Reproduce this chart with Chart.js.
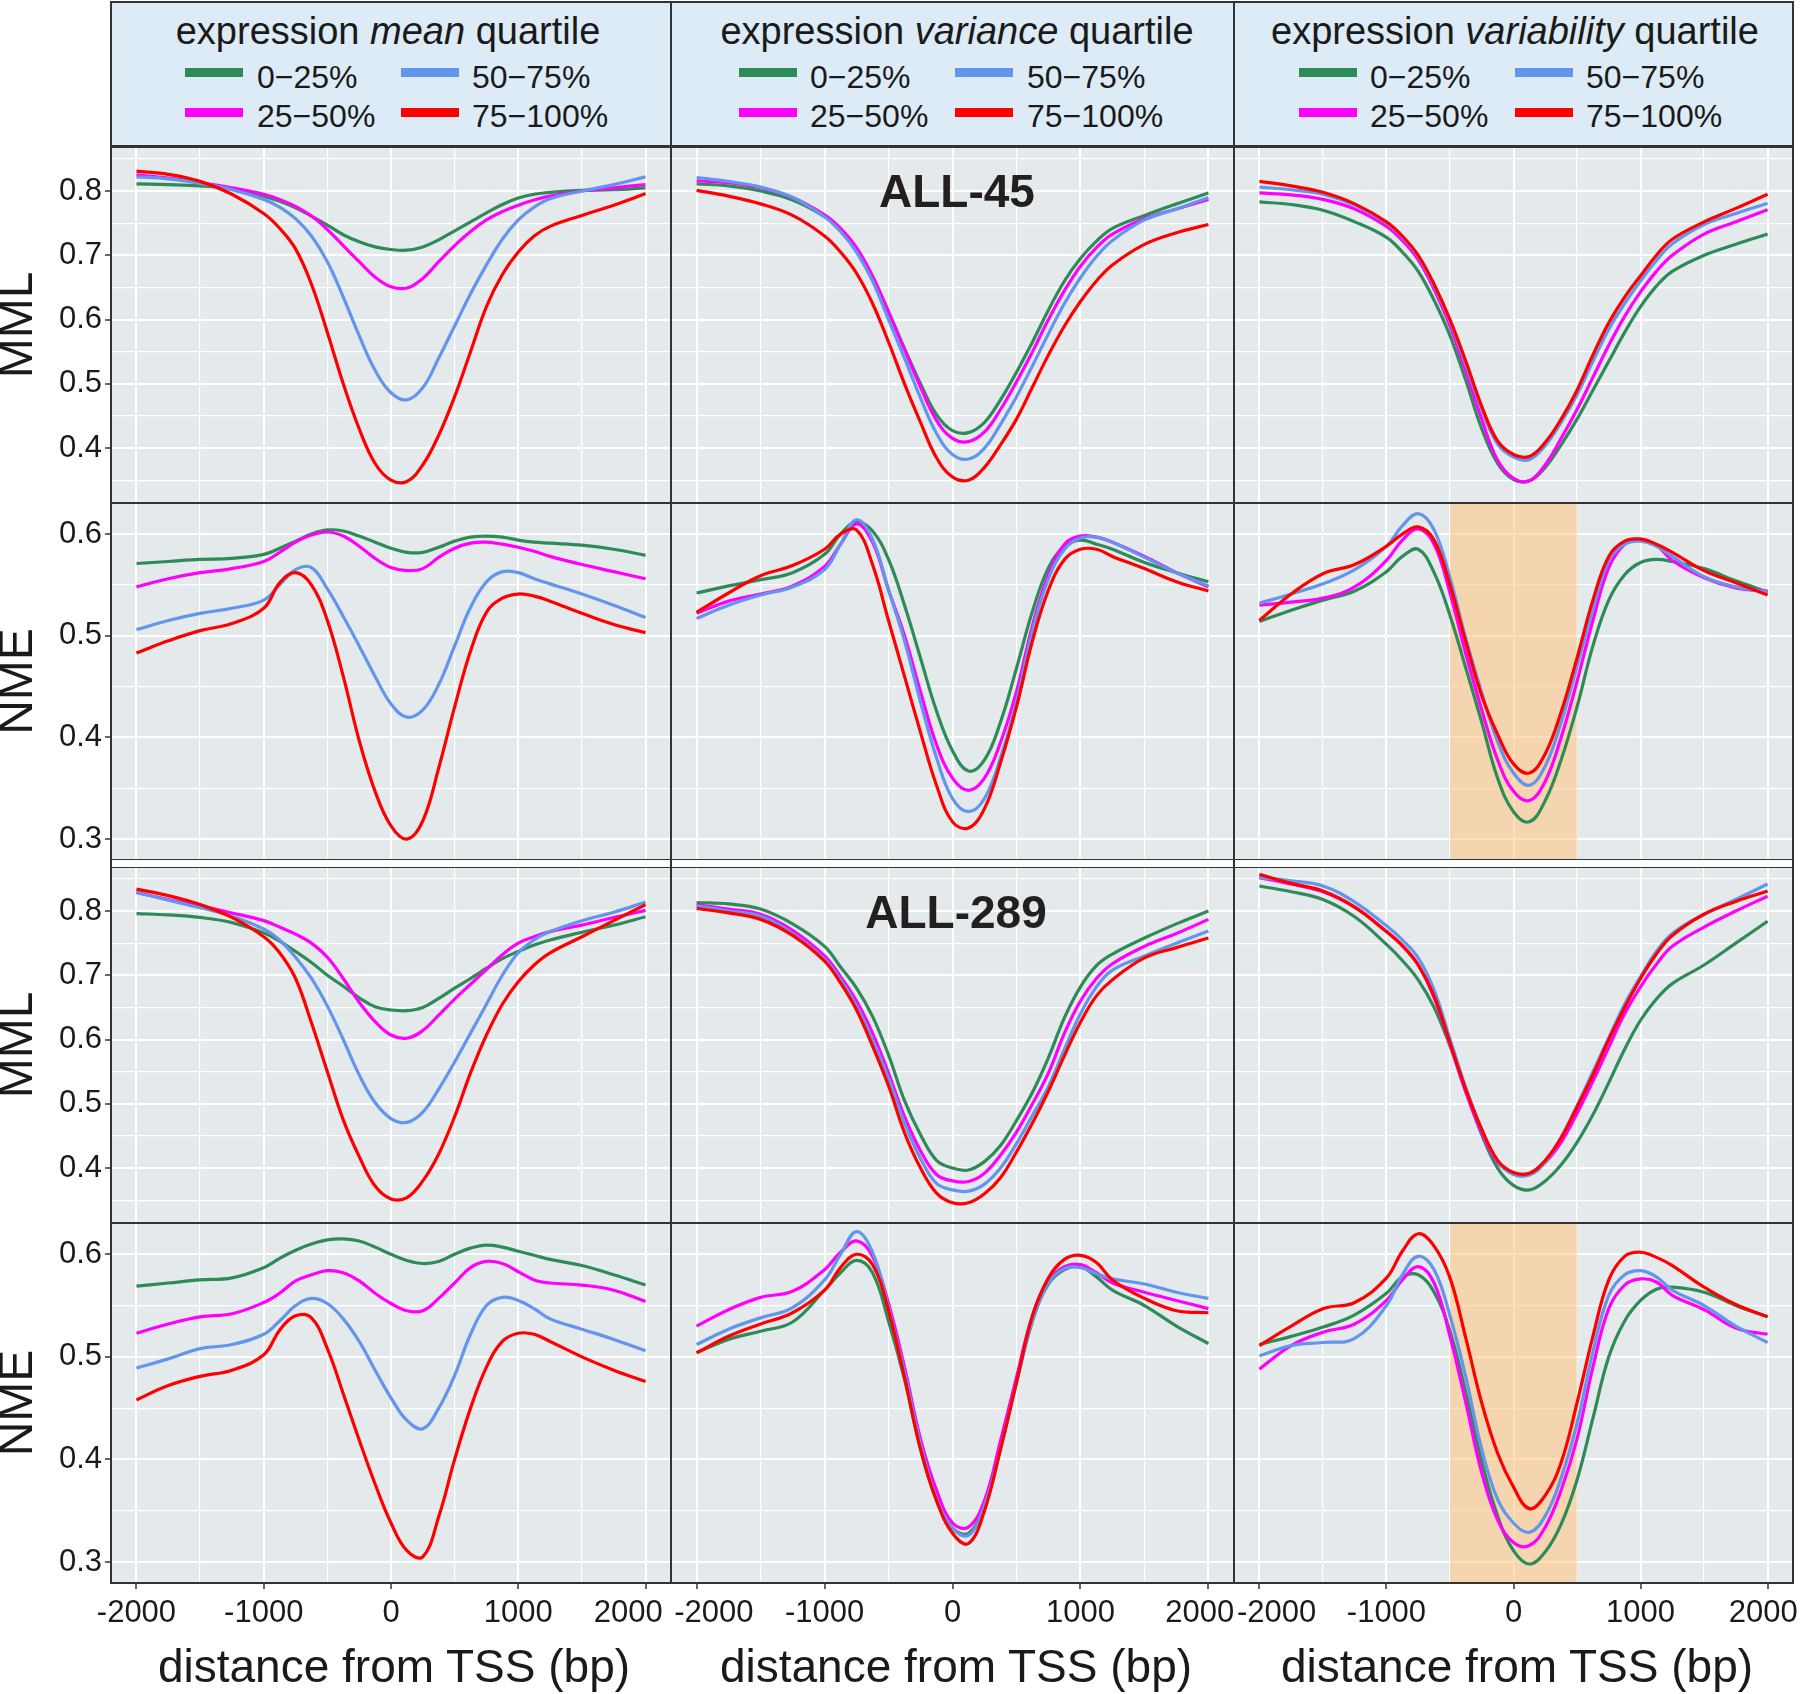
<!DOCTYPE html>
<html>
<head>
<meta charset="utf-8">
<title>MML / NME around TSS by expression quartile</title>
<script src="https://cdn.jsdelivr.net/npm/chart.js@4.4.1/dist/chart.umd.min.js"></script>
<style>
  body { margin: 0; background: #fff; }
  #fig { position: relative; width: 1800px; height: 1694px; font-family: "Liberation Sans", Arial, sans-serif; color: #1a1a1a; }
  #fig canvas { position: absolute; }
  .head { position: absolute; top: 1px; height: 146px; box-sizing: border-box; border: 2px solid #333; background: #dcebf5; }
  .txt { position: absolute; white-space: pre; line-height: 1; }
  .swatch { position: absolute; height: 9px; width: 58px; }
</style>
</head>
<body>
<div id="fig"></div>
<script>
// distance from TSS (bp) at which every curve is sampled
const DISTANCE = [-2000, -1750, -1500, -1250, -1000, -875, -750, -625, -500, -375, -250, -125, 0,
                  125, 250, 375, 500, 625, 750, 875, 1000, 1125, 1250, 1500, 1750, 2000];

const QUARTILES = ['0\u221225%', '25\u221250%', '50\u221275%', '75\u2212100%'];
const COLORS = ['#2e8b57', '#ff00ff', '#6495ed', '#ff0000'];
const HEAD_WORD = ['mean', 'variance', 'variability'];
const ROW_METRIC = ['MML', 'NME', 'MML', 'NME'];
const SAMPLE_LABEL = ['ALL-45', 'ALL-289'];
const X_TITLE = 'distance from TSS (bp)';

const X_TICKS = [-2000, -1500, -1000, -500, 0, 500, 1000, 1500, 2000];
const MML_TICKS = [0.35, 0.4, 0.45, 0.5, 0.55, 0.6, 0.65, 0.7, 0.75, 0.8, 0.85];
const NME_TICKS = [0.3, 0.35, 0.4, 0.45, 0.5, 0.55, 0.6];
const HIGHLIGHT = [-500, 500];

// each panel: [0-25%, 25-50%, 50-75%, 75-100%]
const MML_ALL45_MEAN = [
  [.811,.810,.808,.803,.792,.784,.774,.761,.747,.732,.721,.713,.709,.708,.713,.724,.738,.752,.766,.779,.789,.795,.798,.801,.802,.805],
  [.825,.820,.813,.805,.795,.787,.776,.761,.740,.715,.690,.666,.651,.649,.664,.690,.715,.737,.755,.768,.778,.786,.792,.800,.805,.810],
  [.822,.819,.812,.802,.787,.775,.757,.730,.690,.635,.575,.521,.486,.475,.494,.540,.590,.640,.685,.725,.755,.775,.788,.800,.810,.822],
  [.831,.826,.815,.795,.765,.742,.710,.655,.580,.500,.430,.376,.350,.348,.374,.420,.480,.550,.620,.670,.705,.730,.745,.762,.778,.796]
];
const MML_ALL45_VAR = [
  [.811,.808,.800,.786,.760,.738,.708,.665,.612,.555,.500,.452,.427,.424,.440,.475,.518,.565,.615,.660,.695,.722,.742,.762,.780,.797],
  [.816,.813,.805,.790,.763,.742,.712,.668,.612,.553,.495,.443,.415,.410,.425,.460,.503,.550,.600,.645,.683,.712,.733,.757,.772,.787],
  [.821,.815,.806,.790,.760,.737,.705,.660,.600,.540,.478,.423,.390,.383,.400,.437,.480,.528,.578,.625,.665,.698,.723,.755,.772,.790],
  [.801,.792,.780,.762,.730,.705,.672,.625,.565,.500,.440,.385,.355,.350,.370,.405,.445,.495,.545,.590,.628,.660,.685,.717,.735,.748]
];
const MML_ALL45_VBL = [
  [.783,.779,.770,.752,.728,.705,.675,.630,.575,.505,.430,.376,.351,.349,.370,.405,.445,.490,.535,.580,.620,.652,.675,.700,.717,.733],
  [.797,.794,.787,.772,.745,.723,.693,.647,.590,.520,.445,.381,.353,.349,.374,.415,.460,.510,.560,.605,.643,.675,.700,.733,.752,.771],
  [.806,.802,.795,.778,.750,.728,.698,.652,.597,.530,.460,.406,.386,.382,.404,.440,.483,.535,.585,.625,.660,.692,.718,.748,.765,.781],
  [.815,.808,.798,.780,.752,.730,.700,.655,.600,.535,.465,.411,.390,.387,.409,.445,.490,.545,.595,.635,.668,.700,.725,.752,.773,.795]
];
const NME_ALL45_MEAN = [
  [.571,.573,.575,.576,.580,.586,.593,.600,.604,.603,.598,.592,.586,.582,.582,.587,.593,.597,.598,.597,.594,.592,.591,.589,.585,.579],
  [.548,.556,.562,.566,.573,.582,.592,.599,.602,.598,.588,.576,.567,.564,.566,.577,.586,.591,.592,.590,.587,.583,.578,.570,.563,.556],
  [.506,.515,.522,.527,.535,.550,.565,.567,.546,.519,.490,.460,.433,.420,.427,.452,.490,.528,.553,.563,.562,.556,.551,.541,.530,.518],
  [.483,.495,.505,.512,.527,.552,.562,.550,.515,.460,.397,.347,.313,.300,.318,.370,.430,.485,.523,.537,.541,.539,.534,.522,.511,.503]
];
const NME_ALL45_VAR = [
  [.542,.549,.555,.562,.580,.600,.612,.603,.575,.530,.478,.426,.387,.367,.378,.415,.468,.524,.567,.588,.594,.590,.585,.572,.562,.553],
  [.522,.534,.541,.549,.568,.590,.610,.592,.545,.500,.445,.393,.360,.348,.360,.395,.445,.510,.560,.590,.598,.597,.592,.578,.562,.548],
  [.517,.530,.540,.548,.565,.590,.614,.595,.545,.495,.435,.380,.340,.327,.340,.380,.435,.505,.556,.585,.596,.597,.592,.577,.562,.549],
  [.523,.542,.559,.569,.585,.600,.604,.570,.515,.460,.405,.353,.317,.311,.330,.375,.430,.495,.545,.575,.585,.585,.578,.566,.553,.544]
];
const NME_ALL45_VBL = [
  [.514,.525,.535,.544,.563,.578,.585,.562,.520,.468,.415,.360,.327,.317,.338,.378,.430,.490,.535,.560,.572,.575,.573,.566,.554,.543],
  [.530,.533,.537,.548,.574,.594,.605,.590,.542,.482,.427,.378,.347,.338,.357,.400,.455,.515,.567,.590,.595,.589,.574,.557,.547,.544],
  [.532,.541,.551,.565,.588,.608,.620,.604,.557,.497,.444,.396,.365,.353,.372,.415,.470,.526,.574,.590,.593,.588,.578,.558,.548,.543],
  [.515,.541,.561,.570,.588,.600,.607,.594,.550,.494,.441,.403,.374,.365,.384,.425,.478,.535,.578,.593,.595,.590,.582,.564,.552,.540]
];
const MML_ALL289_MEAN = [
  [.796,.794,.790,.782,.766,.753,.737,.720,.700,.683,.665,.651,.646,.645,.650,.664,.680,.695,.711,.726,.737,.747,.755,.767,.778,.791],
  [.829,.818,.808,.797,.785,.775,.764,.750,.728,.695,.658,.628,.607,.602,.614,.638,.663,.686,.709,.732,.750,.760,.768,.778,.790,.801],
  [.829,.817,.805,.792,.772,.755,.728,.695,.652,.600,.545,.502,.477,.471,.487,.523,.565,.610,.655,.700,.735,.755,.768,.785,.798,.814],
  [.834,.824,.810,.790,.760,.735,.695,.626,.550,.475,.418,.372,.352,.354,.380,.422,.480,.548,.607,.655,.690,.716,.735,.760,.785,.810]
];
const MML_ALL289_VAR = [
  [.813,.811,.803,.780,.745,.713,.680,.636,.576,.505,.452,.412,.400,.397,.410,.435,.474,.518,.572,.634,.682,.715,.733,.758,.780,.800],
  [.810,.803,.795,.770,.730,.698,.660,.610,.548,.480,.427,.390,.380,.379,.392,.420,.456,.500,.548,.610,.660,.695,.718,.745,.765,.787],
  [.808,.800,.792,.765,.725,.693,.652,.600,.540,.470,.415,.376,.366,.364,.375,.400,.438,.482,.527,.585,.640,.682,.708,.730,.750,.769],
  [.804,.797,.787,.762,.722,.688,.646,.590,.528,.455,.400,.361,.346,.346,.360,.385,.425,.470,.520,.575,.627,.668,.693,.727,.743,.758]
];
const MML_ALL289_VBL = [
  [.839,.830,.818,.791,.748,.723,.693,.650,.590,.520,.452,.400,.373,.366,.380,.405,.440,.483,.533,.585,.630,.663,.687,.716,.750,.784],
  [.852,.842,.830,.806,.768,.746,.716,.665,.593,.518,.455,.409,.392,.391,.409,.440,.485,.535,.588,.640,.682,.717,.745,.775,.800,.823],
  [.852,.847,.839,.814,.777,.755,.727,.677,.601,.525,.460,.411,.390,.389,.409,.448,.497,.550,.603,.655,.698,.737,.765,.795,.818,.842],
  [.857,.843,.831,.806,.768,.746,.716,.668,.595,.522,.460,.412,.393,.392,.412,.447,.495,.545,.600,.650,.695,.733,.762,.795,.815,.831]
];
const NME_ALL289_MEAN = [
  [.569,.572,.575,.577,.587,.596,.604,.610,.614,.615,.613,.607,.600,.594,.591,.593,.600,.606,.609,.607,.603,.599,.595,.589,.580,.570],
  [.523,.532,.539,.542,.553,.562,.574,.580,.584,.582,.574,.562,.552,.545,.545,.557,.572,.587,.593,.591,.583,.575,.572,.570,.565,.554],
  [.489,.498,.508,.512,.522,.535,.550,.557,.552,.537,.515,.487,.460,.438,.430,.450,.482,.522,.550,.558,.555,.547,.537,.527,.517,.506],
  [.458,.472,.481,.487,.502,.526,.540,.538,.508,.464,.419,.376,.338,.311,.305,.344,.400,.450,.490,.515,.523,.522,.515,.500,.487,.476]
];
const NME_ALL289_VAR = [
  [.504,.517,.525,.534,.565,.582,.594,.582,.535,.478,.410,.360,.333,.328,.355,.410,.475,.535,.571,.585,.588,.578,.565,.550,.530,.513],
  [.530,.546,.558,.564,.585,.602,.613,.598,.552,.490,.420,.370,.338,.334,.360,.418,.480,.540,.574,.588,.590,.582,.572,.563,.555,.547],
  [.512,.527,.538,.548,.575,.600,.622,.602,.548,.485,.415,.362,.333,.326,.355,.410,.475,.535,.572,.586,.587,.581,.576,.571,.563,.557],
  [.504,.520,.532,.543,.565,.587,.600,.590,.545,.480,.410,.360,.328,.318,.350,.410,.475,.540,.577,.595,.599,.592,.575,.557,.545,.543]
];
const NME_ALL289_VBL = [
  [.512,.520,.529,.541,.562,.578,.580,.563,.525,.465,.398,.345,.311,.298,.310,.337,.380,.440,.500,.535,.555,.566,.568,.563,.550,.539],
  [.488,.511,.524,.532,.555,.575,.588,.572,.520,.455,.387,.341,.319,.316,.334,.370,.420,.490,.547,.570,.576,.573,.560,.546,.528,.522],
  [.501,.511,.514,.518,.550,.580,.598,.585,.540,.480,.410,.361,.338,.329,.345,.382,.435,.505,.560,.580,.584,.578,.565,.550,.530,.514],
  [.511,.530,.547,.553,.577,.603,.620,.608,.577,.518,.455,.406,.373,.352,.365,.397,.455,.520,.575,.598,.602,.597,.589,.568,.551,.539]
];

const PANELS = [
  [MML_ALL45_MEAN, MML_ALL45_VAR, MML_ALL45_VBL],
  [NME_ALL45_MEAN, NME_ALL45_VAR, NME_ALL45_VBL],
  [MML_ALL289_MEAN, MML_ALL289_VAR, MML_ALL289_VBL],
  [NME_ALL289_MEAN, NME_ALL289_VAR, NME_ALL289_VBL]
];

// ---- layout (pixels) ----
const FIG_W = 1800, FIG_H = 1694;
const COL_LEFT = [111, 671, 1234], COL_WIDTH = [560, 563, 559];
const ROW_TOP = [147, 503, 867, 1223], ROW_HEIGHT = [356, 357, 356, 360];
const Y_RANGE = { MML: [0.3145, 0.8685], NME: [0.2795, 0.6305] };

Chart.defaults.font.family = '"Liberation Sans", Arial, sans-serif';
Chart.defaults.color = '#1a1a1a';

const fig = document.getElementById('fig');

function addText(html, x, baseline, size, extra) {
  const d = document.createElement('div');
  d.className = 'txt';
  d.innerHTML = html;
  d.style.fontSize = size + 'px';
  d.style.left = x + 'px';
  d.style.top = (baseline - 0.8465 * size) + 'px';
  Object.assign(d.style, extra || {});
  fig.appendChild(d);
  return d;
}

// panel background, highlighted window and frame
const panelDecor = {
  id: 'panelDecor',
  beforeDraw(chart) {
    const { ctx, chartArea: a } = chart;
    ctx.save();
    ctx.fillStyle = '#e4e9eb';
    ctx.fillRect(a.left, a.top, a.width, a.height);
    ctx.restore();
  },
  beforeDatasetsDraw(chart, args, opts) {
    if (!opts.band) return;
    const { ctx, chartArea: a, scales: { x } } = chart;
    const x0 = x.getPixelForValue(opts.band[0]);
    const x1 = x.getPixelForValue(opts.band[1]);
    ctx.save();
    ctx.fillStyle = 'rgba(255, 200, 137, 0.6)';
    ctx.fillRect(x0, a.top, x1 - x0, a.height);
    ctx.restore();
  },
  afterDraw(chart) {
    const { ctx, chartArea: a } = chart;
    ctx.save();
    ctx.strokeStyle = '#333';
    ctx.lineWidth = 2;
    ctx.strokeRect(a.left, a.top, a.width, a.height);
    ctx.restore();
  }
};

const isMajorX = v => v % 1000 === 0;
const isMajorY = v => Math.round(v * 100) % 10 === 0;

function xTickLabel(v, c) {
  if (!isMajorX(v)) return '';
  let s = String(v);
  // nudge the end labels apart where neighbouring panels meet
  if (v === -2000 && c > 0) s = '    ' + s;
  if (v === 2000) s = s + (c === 0 ? '    ' : c === 1 ? '  ' : ' ');
  return s;
}

function makePanel(r, c) {
  const isLeft = c === 0, isBottom = r === ROW_TOP.length - 1;
  const metric = ROW_METRIC[r];
  const padRight = c === 2 ? FIG_W - (COL_LEFT[2] + COL_WIDTH[2]) : 0;
  const yAxisW = isLeft ? COL_LEFT[0] : 0;
  const xAxisH = isBottom ? 60 : 0;
  const left = isLeft ? 0 : COL_LEFT[c];
  const w = COL_LEFT[c] + COL_WIDTH[c] + padRight - left;
  const h = ROW_HEIGHT[r] + xAxisH;

  const cv = document.createElement('canvas');
  cv.width = w; cv.height = h;
  cv.style.left = left + 'px';
  cv.style.top = ROW_TOP[r] + 'px';
  cv.style.width = w + 'px';
  cv.style.height = h + 'px';
  fig.appendChild(cv);

  const series = PANELS[r][c];
  const yTicks = metric === 'MML' ? MML_TICKS : NME_TICKS;
  const band = (metric === 'NME' && c === 2) ? HIGHLIGHT : null;

  new Chart(cv, {
    type: 'line',
    data: {
      datasets: QUARTILES.map((q, i) => ({
        label: q,
        data: DISTANCE.map((d, k) => ({ x: d, y: series[i][k] })),
        borderColor: COLORS[i],
        borderWidth: 3.2,
        pointRadius: 0,
        fill: false,
        tension: 0.4,
        order: QUARTILES.length - 1 - i
      }))
    },
    options: {
      responsive: false,
      animation: false,
      devicePixelRatio: 1,
      events: [],
      layout: { padding: { left: 0, top: 0, bottom: 0, right: padRight }, autoPadding: false },
      plugins: {
        legend: { display: false },
        tooltip: { enabled: false },
        panelDecor: { band }
      },
      scales: {
        x: {
          type: 'linear', min: -2200, max: 2200, bounds: 'data',
          afterBuildTicks: s => { s.ticks = X_TICKS.map(v => ({ value: v })); },
          afterFit: s => { s.height = xAxisH; s.paddingLeft = 0; s.paddingRight = 0; },
          border: { display: false },
          grid: {
            color: '#ffffff',
            lineWidth: ctx => (ctx.tick && isMajorX(ctx.tick.value)) ? 2 : 1.2,
            drawTicks: isBottom,
            tickLength: 6,
            tickWidth: 1.5,
            tickColor: ctx => (ctx.tick && isMajorX(ctx.tick.value)) ? '#333' : 'rgba(0,0,0,0)'
          },
          ticks: {
            display: isBottom, autoSkip: false, maxRotation: 0, minRotation: 0,
            padding: 6, font: { size: 31 }, color: '#1a1a1a',
            callback: v => xTickLabel(v, c)
          }
        },
        y: {
          type: 'linear', min: Y_RANGE[metric][0], max: Y_RANGE[metric][1], bounds: 'data',
          afterBuildTicks: s => { s.ticks = yTicks.map(v => ({ value: v })); },
          afterFit: s => { s.width = yAxisW; s.paddingTop = 0; s.paddingBottom = 0; },
          border: { display: false },
          grid: {
            color: '#ffffff',
            lineWidth: ctx => (ctx.tick && isMajorY(ctx.tick.value)) ? 2 : 1.2,
            drawTicks: isLeft,
            tickLength: 6,
            tickWidth: 1.5,
            tickColor: ctx => (ctx.tick && isMajorY(ctx.tick.value)) ? '#333' : 'rgba(0,0,0,0)'
          },
          ticks: {
            display: isLeft, autoSkip: false, padding: 3,
            font: { size: 31 }, color: '#1a1a1a',
            callback: v => isMajorY(v) ? v.toFixed(1) : ''
          },
          title: {
            display: isLeft, text: metric,
            font: { size: 48, lineHeight: 0.79 }, padding: 0, color: '#1a1a1a'
          }
        }
      }
    },
    plugins: [panelDecor]
  });
}

// ---- header strips with legends ----
const HEAD_TITLE_X = [388, 957, 1515];
const SWATCH_X = [[185, 401], [739, 955], [1299, 1515]];
const LEGEND_TEXT_X = [[257, 472], [810, 1027], [1370, 1586]];
const LEGEND_SWATCH_Y = [68, 108];
const LEGEND_BASELINE = [88, 127];
const X_TITLE_X = [394, 956, 1517];

HEAD_WORD.forEach((word, c) => {
  const box = document.createElement('div');
  box.className = 'head';
  box.style.left = (COL_LEFT[c] - 1) + 'px';
  box.style.width = (COL_WIDTH[c] + 2) + 'px';
  fig.appendChild(box);

  addText('expression <i>' + word + '</i> quartile', HEAD_TITLE_X[c] - 300, 44, 38,
          { width: '600px', textAlign: 'center' });

  QUARTILES.forEach((q, i) => {
    const lc = Math.floor(i / 2), lr = i % 2;
    const sw = document.createElement('div');
    sw.className = 'swatch';
    sw.style.left = SWATCH_X[c][lc] + 'px';
    sw.style.top = LEGEND_SWATCH_Y[lr] + 'px';
    sw.style.background = COLORS[i];
    fig.appendChild(sw);
    addText(q, LEGEND_TEXT_X[c][lc], LEGEND_BASELINE[lr], 32);
  });
});

// ---- panels ----
for (let r = 0; r < PANELS.length; r++) {
  for (let c = 0; c < PANELS[r].length; c++) makePanel(r, c);
}

// x-axis titles under each column
X_TITLE_X.forEach(cx => {
  addText(X_TITLE, cx - 300, 1682, 46, { width: '600px', textAlign: 'center' });
});

// frame lines running through the gap between the two samples
[COL_LEFT[0], COL_LEFT[1], COL_LEFT[2], COL_LEFT[2] + COL_WIDTH[2]].forEach(x => {
  const d = document.createElement('div');
  Object.assign(d.style, { position: 'absolute', left: (x - 1) + 'px', top: '859px',
                           width: '2px', height: '9px', background: '#333' });
  fig.appendChild(d);
});

// sample labels
addText(SAMPLE_LABEL[0], 957 - 150, 207, 46, { width: '300px', textAlign: 'center', fontWeight: 'bold', color: '#231f20' });
addText(SAMPLE_LABEL[1], 956 - 150, 928, 46, { width: '300px', textAlign: 'center', fontWeight: 'bold', color: '#231f20' });
</script>
</body>
</html>
